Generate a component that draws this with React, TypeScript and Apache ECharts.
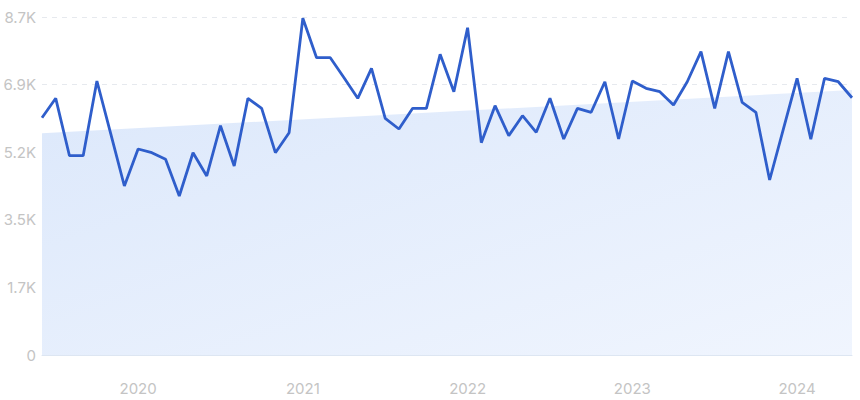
import React, { useEffect, useRef } from "react";
import * as echarts from "echarts";

const months: string[] = [
  "2019-06", "2019-07", "2019-08", "2019-09", "2019-10", "2019-11", "2019-12",
  "2020-01", "2020-02", "2020-03", "2020-04", "2020-05", "2020-06", "2020-07", "2020-08", "2020-09", "2020-10", "2020-11", "2020-12",
  "2021-01", "2021-02", "2021-03", "2021-04", "2021-05", "2021-06", "2021-07", "2021-08", "2021-09", "2021-10", "2021-11", "2021-12",
  "2022-01", "2022-02", "2022-03", "2022-04", "2022-05", "2022-06", "2022-07", "2022-08", "2022-09", "2022-10", "2022-11", "2022-12",
  "2023-01", "2023-02", "2023-03", "2023-04", "2023-05", "2023-06", "2023-07", "2023-08", "2023-09", "2023-10", "2023-11", "2023-12",
  "2024-01", "2024-02", "2024-03", "2024-04", "2024-05",
];

const visits: number[] = [
  6094, 6592, 5118, 5118, 7036, 5690, 4340,
  5290, 5195, 5026, 4083, 5195, 4597, 5888, 4854, 6592, 6335, 5195, 5709,
  8647, 7635, 7635, 7121, 6592, 7362, 6078, 5804, 6335, 6335, 7722, 6762,
  8405, 5452, 6402, 5632, 6145, 5719, 6592, 5547, 6335, 6233, 7018, 5547,
  7036, 6849, 6762, 6420, 7018, 7789, 6335, 7789, 6489, 6233, 4494, 5800,
  7106, 5539, 7106, 7018, 6607,
];

const trendStart = 5693;
const trendEnd = 6805;

const yMax = 8680;
const yInterval = 1736;

export default function App() {
  const ref = useRef<HTMLDivElement>(null);
  useEffect(() => {
    if (!ref.current) return;
    const chart = echarts.init(ref.current, null, { renderer: "svg" });
    chart.setOption({
      animation: false,
      textStyle: { fontFamily: "Inter, 'Noto Sans', sans-serif" },
      grid: { left: 42, right: 8, top: 17, bottom: 45, containLabel: false },
      xAxis: {
        type: "category",
        data: months,
        boundaryGap: false,
        axisTick: { show: false },
        axisLine: { show: true, lineStyle: { color: "#dde6f2", width: 1 } },
        splitLine: { show: false },
        axisLabel: {
          interval: (_i: number, v: string) => v.endsWith("-01"),
          formatter: (v: string) => v.slice(0, 4),
          color: "#c4c4c4",
          fontSize: 15,
          margin: 26,
        },
      },
      yAxis: {
        type: "value",
        min: 0,
        max: yMax,
        interval: yInterval,
        axisLine: { show: false },
        axisTick: { show: false },
        axisLabel: {
          color: "#c4c4c4",
          fontSize: 15,
          margin: 6,
          formatter: (v: number) => (v === 0 ? "0" : (v / 1000).toFixed(1) + "K"),
        },
        splitLine: { lineStyle: { color: "#e6e9ee", type: [5, 5], width: 1 } },
      },
      series: [
        {
          type: "line",
          data: [
            [months[0], trendStart],
            [months[months.length - 1], trendEnd],
          ],
          symbol: "none",
          lineStyle: { width: 0, opacity: 0 },
          areaStyle: {
            opacity: 1,
            color: new echarts.graphic.LinearGradient(0, 0, 1, 1, [
              { offset: 0, color: "#dce8fb" },
              { offset: 1, color: "#f0f5fe" },
            ]),
          },
          z: 1,
          silent: true,
        },
        {
          type: "line",
          data: visits,
          symbol: "none",
          lineStyle: { color: "#2f5ecb", width: 2.8 },
          z: 3,
        },
      ],
    });
    return () => chart.dispose();
  }, []);
  return <div ref={ref} style={{ width: 860, height: 400, position: "absolute", left: 0, top: 0 }} />;
}
